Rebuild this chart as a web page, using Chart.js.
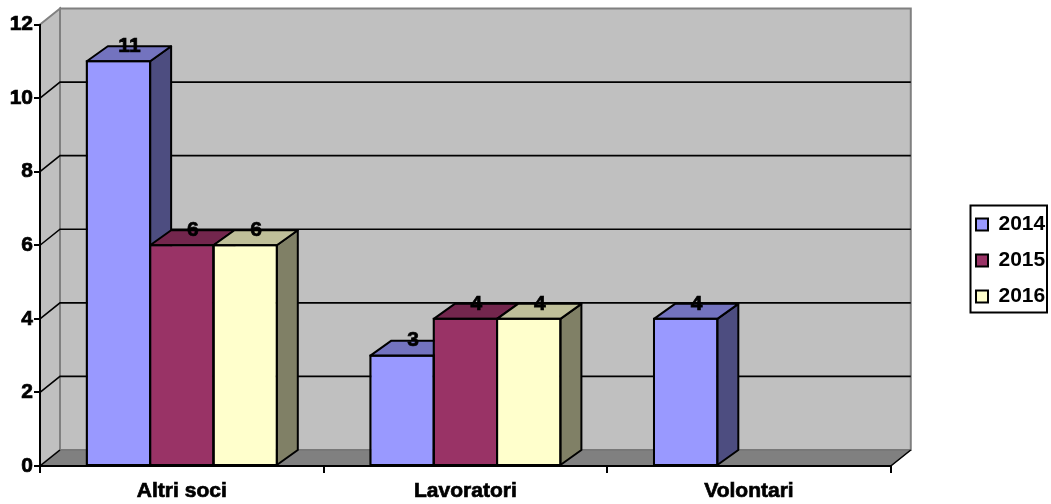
<!DOCTYPE html>
<html>
<head>
<meta charset="utf-8">
<title>Soci</title>
<style>
  html, body { margin: 0; padding: 0; background: #fff; }
  canvas { display: block; }
</style>
<script src="https://cdn.jsdelivr.net/npm/chart.js@4"></script>
</head>
<body>
<canvas id="chart" width="1051" height="504"></canvas>
<script>
// data
const categories = ["Altri soci", "Lavoratori", "Volontari"];
const values2014 = [11, 3, 4];
const values2015 = [6, 4, null];
const values2016 = [6, 4, null];
const seriesNames = ["2014", "2015", "2016"];

const frontColors = ["#9999FF", "#993366", "#FFFFCC"];
const topColors = ["#7373BF", "#73264D", "#BFBF99"];
const sideColors = ["#4D4D80", "#4D1A33", "#808066"];

const FONT = "'Liberation Sans', Arial, sans-serif";
const WALL_DX = 20, WALL_DY = 16;
const BAR_DX = 21, BAR_DY = 15;

function poly(ctx, pts, fill, stroke, lw) {
  ctx.beginPath();
  pts.forEach((p, i) => i ? ctx.lineTo(p[0], p[1]) : ctx.moveTo(p[0], p[1]));
  ctx.closePath();
  if (fill) { ctx.fillStyle = fill; ctx.fill(); }
  if (stroke) { ctx.strokeStyle = stroke; ctx.lineWidth = lw; ctx.stroke(); }
}

// walls, floor and gridlines of the fake 3D box
const wallsPlugin = {
  id: "walls",
  beforeDraw(chart) {
    const { ctx, chartArea: a, scales } = chart;
    const y = scales.y;
    ctx.save();
    ctx.lineJoin = "miter";
    poly(ctx, [[a.left + WALL_DX, a.top - WALL_DY], [a.right + WALL_DX, a.top - WALL_DY],
      [a.right + WALL_DX, a.bottom - WALL_DY], [a.left + WALL_DX, a.bottom - WALL_DY]], "#C0C0C0", "#808080", 2);
    poly(ctx, [[a.left, a.top], [a.left + WALL_DX, a.top - WALL_DY],
      [a.left + WALL_DX, a.bottom - WALL_DY], [a.left, a.bottom]], "#C0C0C0", "#808080", 2);
    poly(ctx, [[a.left, a.bottom], [a.left + WALL_DX, a.bottom - WALL_DY],
      [a.right + WALL_DX, a.bottom - WALL_DY], [a.right, a.bottom]], "#808080", "#707070", 1);

    ctx.strokeStyle = "#000";
    ctx.lineWidth = 1.6;
    y.ticks.forEach(t => {
      if (t.value === y.min || t.value === y.max) return;
      const py = y.getPixelForValue(t.value);
      ctx.beginPath();
      ctx.moveTo(a.left, py);
      ctx.lineTo(a.left + WALL_DX, py - WALL_DY);
      ctx.lineTo(a.right + WALL_DX, py - WALL_DY);
      ctx.stroke();
    });
    // little diagonals at the floor corners
    ctx.beginPath();
    ctx.moveTo(a.left, a.bottom);
    ctx.lineTo(a.left + WALL_DX, a.bottom - WALL_DY);
    ctx.moveTo(a.right, a.bottom);
    ctx.lineTo(a.right + WALL_DX, a.bottom - WALL_DY);
    ctx.stroke();
    ctx.restore();
  },
  // top and side faces go under the fronts that chart.js draws
  beforeDatasetsDraw(chart) {
    const { ctx } = chart;
    ctx.save();
    ctx.lineJoin = "round";
    categories.forEach((c, i) => {
      seriesNames.forEach((s, d) => {
        const el = chart.getDatasetMeta(d).data[i];
        if (chart.data.datasets[d].data[i] == null) return;
        const l = el.x - el.width / 2, r = el.x + el.width / 2;
        poly(ctx, [[r, el.y], [r + BAR_DX, el.y - BAR_DY], [r + BAR_DX, el.base - BAR_DY], [r, el.base]], sideColors[d], "#000", 2);
        poly(ctx, [[l, el.y], [l + BAR_DX, el.y - BAR_DY], [r + BAR_DX, el.y - BAR_DY], [r, el.y]], topColors[d], "#000", 2);
      });
    });
    ctx.restore();
  },
  afterDatasetsDraw(chart) {
    const { ctx } = chart;
    ctx.save();
    ctx.textAlign = "center";
    ctx.textBaseline = "middle";
    ctx.font = "bold 21px " + FONT;
    chart.data.datasets.forEach((ds, d) => {
      chart.getDatasetMeta(d).data.forEach((el, i) => {
        if (ds.data[i] == null) return;
        ctx.strokeStyle = "#000";
        ctx.lineWidth = 2;
        ctx.strokeRect(el.x - el.width / 2, el.y, el.width, el.base - el.y);
      });
    });
    chart.data.datasets.forEach((ds, d) => {
      chart.getDatasetMeta(d).data.forEach((el, i) => {
        if (ds.data[i] == null) return;
        const label = String(ds.data[i]);
        const lx = el.x + 11, ly = el.y - 15;
        ctx.fillStyle = "#000";
        ctx.fillText(label, lx, ly);
        ctx.lineWidth = 0.7;
        ctx.strokeText(label, lx, ly);
      });
    });
    ctx.restore();
  },
  // legend sits away from the plot, with its own frame
  afterLayout(chart) {
    const lg = chart.legend;
    const w = lg.right - lg.left;
    lg.left = 961;
    lg.right = lg.left + w;
    lg.top = 199;
    lg.bottom = 400;
  },
  afterDraw(chart) {
    const { ctx } = chart;
    ctx.save();
    ctx.strokeStyle = "#000";
    ctx.lineWidth = 2;
    ctx.strokeRect(970.5, 205.5, 76.5, 107);
    ctx.restore();
  }
};

new Chart(document.getElementById("chart"), {
  type: "bar",
  plugins: [wallsPlugin],
  data: {
    labels: categories,
    datasets: [values2014, values2015, values2016].map((v, d) => ({
      label: seriesNames[d],
      data: v,
      backgroundColor: frontColors[d],
      borderColor: "#000",
      borderWidth: 1,
      categoryPercentage: 0.67,
      barPercentage: 1
    }))
  },
  options: {
    responsive: false,
    animation: false,
    layout: { padding: { top: 24.5, right: 66, left: 0, bottom: 0 } },
    plugins: {
      tooltip: { enabled: false },
      legend: {
        position: "right",
        align: "start",
        labels: {
          color: "#000",
          font: { family: FONT, size: 21, weight: "bold" },
          boxWidth: 12,
          boxHeight: 12,
          padding: 15,
          generateLabels: c => Chart.defaults.plugins.legend.labels.generateLabels(c).map(l => ({ ...l, lineWidth: 2 }))
        }
      }
    },
    scales: {
      x: {
        afterFit(s) { s.height = 38; },
        border: { color: "#000", width: 2 },
        grid: { drawOnChartArea: false, color: "#000", lineWidth: 2, tickLength: 7 },
        ticks: { color: "#000", padding: 6, maxRotation: 0, textStrokeColor: "#000", textStrokeWidth: 0.7, font: { family: FONT, size: 21, weight: "bold" } }
      },
      y: {
        min: 0,
        max: 12,
        afterFit(s) { s.width = 40; },
        border: { color: "#000", width: 2 },
        grid: { drawOnChartArea: false, color: "#000", lineWidth: 2, tickLength: 6 },
        ticks: { stepSize: 2, color: "#000", padding: 1, textStrokeColor: "#000", textStrokeWidth: 0.7, font: { family: FONT, size: 21, weight: "bold" } }
      }
    }
  }
});
</script>
</body>
</html>
